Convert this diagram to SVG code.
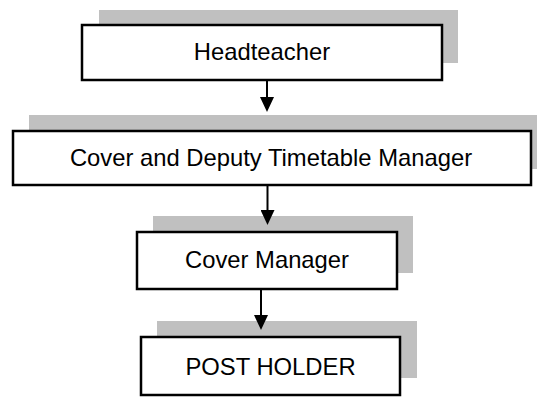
<svg xmlns="http://www.w3.org/2000/svg" width="537" height="397" viewBox="0 0 537 397">
  <style>
    .shadow { fill: #c0c0c0; stroke: none; }
    .box { fill: #ffffff; stroke: #000000; stroke-width: 2.5; }
    .label { font-family: "Liberation Sans", Arial, sans-serif; font-size: 23.8px; fill: #000000; text-anchor: middle; }
    .conn { stroke: #000000; stroke-width: 2; fill: none; marker-end: url(#arrow); }
  </style>
  <defs>
    <marker id="arrow" markerUnits="userSpaceOnUse" viewBox="0 -7 15 14" markerWidth="15" markerHeight="14" refX="0" refY="0" orient="auto">
      <path d="M0,-7 L15,0 L0,7 Z" fill="#000000"/>
    </marker>
  </defs>
  <rect width="537" height="397" fill="#ffffff"/>

  <g id="node-headteacher">
    <rect class="shadow" x="99" y="10" width="359" height="53"/>
    <rect class="box" x="82" y="25" width="360" height="55"/>
    <text class="label" x="262" y="60">Headteacher</text>
  </g>

  <g id="node-cover-deputy">
    <rect class="shadow" x="29" y="115" width="508" height="54"/>
    <rect class="box" x="13" y="131" width="518" height="54"/>
    <text class="label" x="271" y="165.5">Cover and Deputy Timetable Manager</text>
  </g>

  <g id="node-cover-manager">
    <rect class="shadow" x="153" y="216" width="260" height="57"/>
    <rect class="box" x="137" y="232" width="260" height="57"/>
    <text class="label" x="267" y="268">Cover Manager</text>
  </g>

  <g id="node-post-holder">
    <rect class="shadow" x="157" y="321" width="260" height="57"/>
    <rect class="box" x="141" y="337" width="259" height="58"/>
    <text class="label" x="270.5" y="375">POST HOLDER</text>
  </g>

  <g id="connectors">
    <line class="conn" x1="267" y1="80" x2="267" y2="97"/>
    <line class="conn" x1="267.5" y1="185" x2="267.5" y2="210"/>
    <line class="conn" x1="261" y1="289" x2="261" y2="315"/>
  </g>
</svg>
